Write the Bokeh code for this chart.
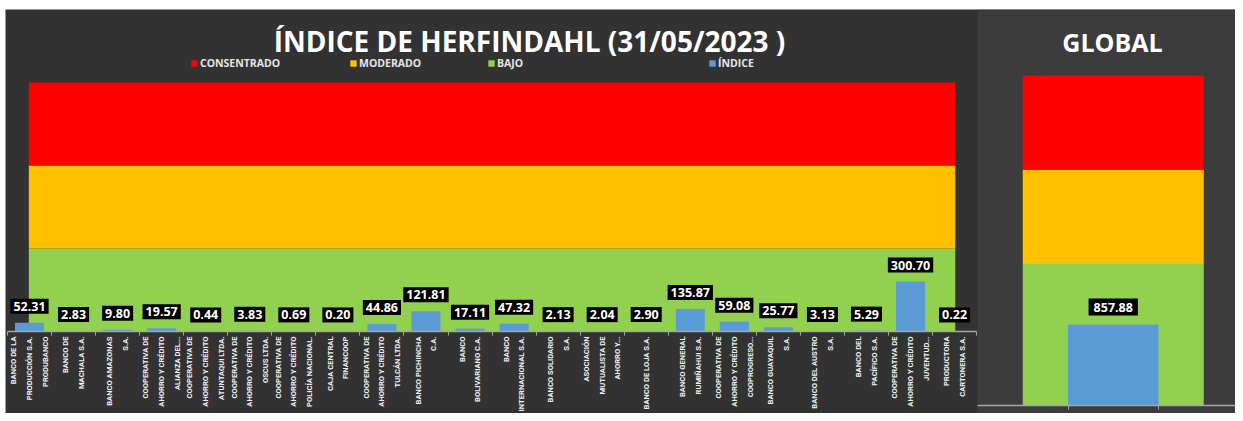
import numpy as np
from bokeh.plotting import figure
from bokeh.models import (Range1d, FixedTicker, Label, Legend, LegendItem, ColumnDataSource,
                          LinearAxis, BoxAnnotation)
from bokeh.embed import file_html
from bokeh.resources import INLINE
from bokeh.core.properties import value

# ---------------- data ----------------
title_text = "ÍNDICE DE HERFINDAHL (31/05/2023 )"
categories = [
    "BANCO DE LA\nPRODUCCIÓN S.A.\nPRODUBANCO",
    "BANCO DE\nMACHALA S.A.",
    "BANCO AMAZONAS\nS.A.",
    "COOPERATIVA DE\nAHORRO Y CRÉDITO\nALIANZA DEL...",
    "COOPERATIVA DE\nAHORRO Y CRÉDITO\nATUNTAQUI LTDA.",
    "COOPERATIVA DE\nAHORRO Y CRÉDITO\nOSCUS LTDA.",
    "COOPERATIVA DE\nAHORRO Y CRÉDITO\nPOLICÍA NACIONAL.",
    "CAJA CENTRAL\nFINANCOOP",
    "COOPERATIVA DE\nAHORRO Y CRÉDITO\nTULCÁN LTDA.",
    "BANCO PICHINCHA\nC.A.",
    "BANCO\nBOLIVARIANO C.A.",
    "BANCO\nINTERNACIONAL S.A.",
    "BANCO SOLIDARIO\nS.A.",
    "ASOCIACIÓN\nMUTUALISTA DE\nAHORRO Y...",
    "BANCO DE LOJA S.A.",
    "BANCO GENERAL\nRUMIÑAHUI S.A.",
    "COOPERATIVA DE\nAHORRO Y CRÉDITO\nCOOPROGRESO...",
    "BANCO GUAYAQUIL\nS.A.",
    "BANCO DEL AUSTRO\nS.A.",
    "BANCO DEL\nPACÍFICO S.A.",
    "COOPERATIVA DE\nAHORRO Y CRÉDITO\nJUVENTUD...",
    "PRODUCTORA\nCARTONERA S.A.",
]
indices = [52.31, 2.83, 9.80, 19.57, 0.44, 3.83, 0.69, 0.20, 44.86, 121.81, 17.11,
           47.32, 2.13, 2.04, 2.90, 135.87, 59.08, 25.77, 3.13, 5.29, 300.70, 0.22]

band_names = ["BAJO", "MODERADO", "CONSENTRADO"]
band_colors = ["#92d050", "#ffc000", "#ff0000"]
band_bottom = [0, 500, 1000]
band_top = [500, 1000, 1500]

global_title = "GLOBAL"
global_slot = 1          # middle of three slots
global_value = 857.88
global_band_bottom = [0, 1500, 2500]
global_band_top = [1500, 2500, 3500]
index_name = "ÍNDICE"

# ---------------- style / layout (pixels, picture coordinates) ----------------
BG = "#323232"
BG2 = "#3c3c3c"
BAR = "#5b9bd5"
AXIS = "#a6a6a6"
FONT = "Open Sans"
FIG_W, FIG_H = 1235, 413
LEFT, TOP = 5, 9                    # frame origin inside the figure (white margin)
W, H = FIG_W - LEFT, FIG_H - TOP    # frame size
BOTTOM = FIG_H
CW = 44.05                          # px per category, left panel
L_X0 = 7
L_AXIS_Y, L_TOP_Y = 331, 82
GW = 90.5                           # px per slot, right panel
G_LEFT_X = 977
G_AXIS_Y, G_TOP_Y = 405, 75

n = len(categories)
xs = np.arange(n) + 0.5

lx0 = -(L_X0 - LEFT) / CW
ly = (L_AXIS_Y - L_TOP_Y) / band_top[-1]
gy = (G_AXIS_Y - G_TOP_Y) / global_band_top[-1]
gx0 = -(G_LEFT_X - LEFT) / GW

p = figure(width=FIG_W, height=FIG_H,
           x_range=Range1d(lx0, lx0 + W / CW),
           y_range=Range1d(-(BOTTOM - L_AXIS_Y) / ly, band_top[-1] + (L_TOP_Y - TOP) / ly),
           output_backend="svg", toolbar_location=None, title=None,
           min_border_left=LEFT, min_border_top=TOP, min_border_right=0, min_border_bottom=0,
           background_fill_color=BG, border_fill_color="white", outline_line_color=None)
p.extra_x_ranges = {"g": Range1d(gx0, gx0 + W / GW)}
p.extra_y_ranges = {"gy": Range1d(-(BOTTOM - G_AXIS_Y) / gy,
                                  global_band_top[-1] + (G_TOP_Y - TOP) / gy)}
p.yaxis.visible = False
p.xgrid.visible = False
p.ygrid.visible = False

# right panel background
p.add_layout(BoxAnnotation(left=0, x_range_name="g", fill_color=BG2, fill_alpha=1,
                           line_color=None, level="underlay"))

# ---------------- left panel ----------------
bsrc = ColumnDataSource(dict(x=[n / 2] * len(band_names), bottom=band_bottom, top=band_top,
                             color=band_colors, name=band_names))
br = p.vbar(x="x", width=n * 0.956, bottom="bottom", top="top", fill_color="color",
            line_color=None, source=bsrc)

src = ColumnDataSource(dict(x=xs, top=indices, label=[f"{v:.2f}" for v in indices]))
r = p.vbar(x="x", top="top", bottom=0, width=0.66, fill_color=BAR, line_color=None, source=src)
p.text(x="x", y="top", text="label", source=src, text_align="center", text_baseline="bottom",
       y_offset=-9, text_font=value(FONT), text_font_style="bold", text_font_size="12.5px",
       text_color="white", background_fill_color="black", padding=(3, 3))

ax = p.xaxis[0]
ax.fixed_location = 0
ax.bounds = (0, n)
ax.ticker = FixedTicker(ticks=list(xs), minor_ticks=list(range(n + 1)))
ax.major_label_overrides = {float(x): lab for x, lab in zip(xs, categories)}
ax.major_label_orientation = np.pi / 2
ax.major_label_text_font = "Roboto"
ax.major_label_text_font_style = "bold"
ax.major_label_text_font_size = "7.6px"
ax.major_label_text_color = "#f2f2f2"
ax.major_label_text_line_height = 1.75
ax.major_label_standoff = 1
ax.major_tick_line_color = None
ax.major_tick_out = 0
ax.major_tick_in = 0
ax.minor_tick_out = 4
ax.minor_tick_in = 0
ax.minor_tick_line_color = AXIS
ax.axis_line_color = AXIS
ax.axis_line_width = 1.5

p.add_layout(Label(x=529 - LEFT, y=BOTTOM - 40, x_units="screen", y_units="screen",
                   text=title_text, text_align="center", text_baseline="middle",
                   text_font=FONT, text_font_size="28px", text_font_style="bold",
                   text_color="white"))

def add_legend(label, rend, idx, x):
    item = LegendItem(label=label, renderers=[rend], index=idx)
    leg = Legend(items=[item], location=(x - LEFT, BOTTOM - 70), orientation="horizontal",
                 glyph_width=8, glyph_height=8, label_standoff=2, label_height=14,
                 padding=0, margin=0, spacing=0, background_fill_alpha=0,
                 border_line_color=None, label_text_font=FONT, label_text_font_size="10.5px",
                 label_text_font_style="bold", label_text_color="#e6e6e6")
    p.add_layout(leg)

add_legend(band_names[2], br, 2, 190)
add_legend(band_names[1], br, 1, 349)
add_legend(band_names[0], br, 0, 487)
add_legend(index_name, r, None, 708)

# ---------------- right panel ----------------
gxc = global_slot + 0.5
gsrc = ColumnDataSource(dict(x=[gxc] * 3, bottom=global_band_bottom, top=global_band_top,
                             color=band_colors))
p.vbar(x="x", width=2, bottom="bottom", top="top", fill_color="color", line_color=None,
       source=gsrc, x_range_name="g", y_range_name="gy")
gb = ColumnDataSource(dict(x=[gxc], top=[global_value], label=[f"{global_value:.2f}"]))
p.vbar(x="x", top="top", bottom=0, width=1, fill_color=BAR, line_color=None, source=gb,
       x_range_name="g", y_range_name="gy")
p.text(x="x", y="top", text="label", source=gb, text_align="center", text_baseline="bottom",
       y_offset=-9, text_font=value(FONT), text_font_style="bold", text_font_size="12.5px",
       text_color="white", background_fill_color="black", padding=(5, 4),
       x_range_name="g", y_range_name="gy")

gax = LinearAxis(x_range_name="g", y_range_name="gy", fixed_location=0,
                 bounds=(0, gx0 + W / GW),
                 ticker=FixedTicker(ticks=[], minor_ticks=[1, 2]),
                 minor_tick_out=4, minor_tick_in=0, minor_tick_line_color=AXIS,
                 major_tick_line_color=None, axis_line_color=AXIS, axis_line_width=1.5)
p.add_layout(gax, "below")

p.add_layout(Label(x=1112 - LEFT, y=BOTTOM - 41.5, x_units="screen", y_units="screen",
                   text=global_title, text_align="center", text_baseline="middle",
                   text_font=FONT, text_font_size="25px", text_font_style="bold",
                   text_color="white"))

open("out.html", "w").write(file_html(p, INLINE))
